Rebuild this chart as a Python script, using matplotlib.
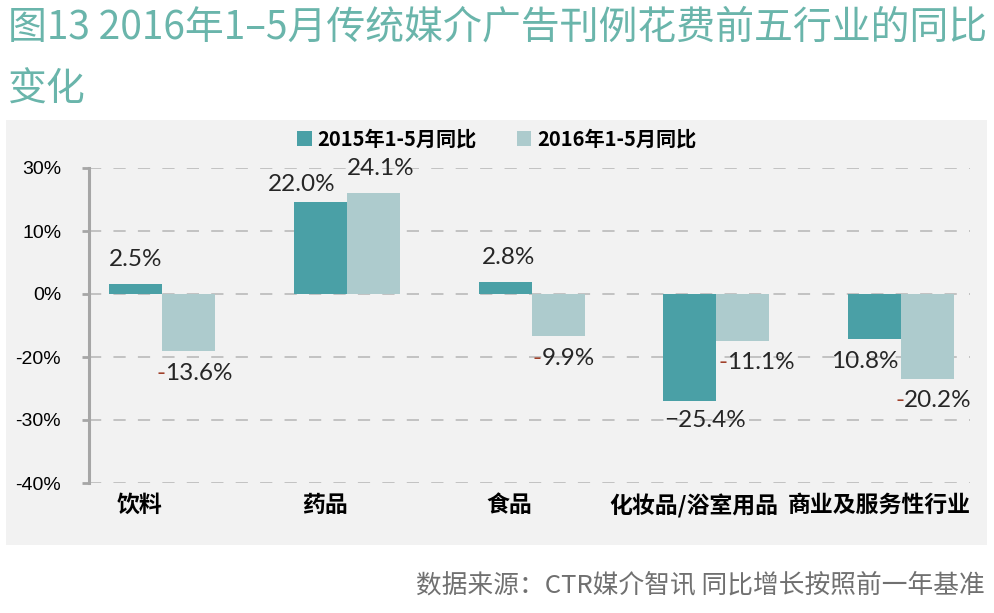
import numpy as np
import matplotlib
matplotlib.use("Agg")
import matplotlib.pyplot as plt
from matplotlib.patches import Rectangle
from matplotlib.transforms import ScaledTranslation
from matplotlib.offsetbox import TextArea, HPacker, AnnotationBbox

plt.rcParams['font.family'] = ['Noto Sans CJK SC', 'DejaVu Sans']

# data
categories = ["饮料", "药品", "食品", "化妆品/浴室用品", "商业及服务性行业"]
series_names = ["2015年1-5月同比", "2016年1-5月同比"]
yoy_2015 = [2.5, 22.0, 2.8, -25.4, -10.8]
yoy_2016 = [-13.6, 24.1, -9.9, -11.1, -20.2]
labels_2015 = ["2.5%", "22.0%", "2.8%", "\u221225.4%", "10.8%"]
ytick_vals = [30, 15, 0, -15, -30, -45]
ytick_labels = ["30%", "10%", "0%", "-20%", "-30%", "-40%"]

# label offsets in pixels (dx, dy), like the original
off_2015 = [(0, 24), (-19, 17), (4, 25), (15, -20), (-10, -22)]
off_2016 = [(6, -22), (7, 24), (6, -23), (14, -22), (6, -22)]

TEAL = "#4aa0a6"
LIGHT = "#adcbcd"
BG = "#f2f2f2"
TITLE_C = "#6ab5ab"
PX = 0.72  # pixel -> point at 100 dpi

fig = plt.figure(figsize=(9.95, 6.13), dpi=100)
fig.patch.set_facecolor("white")

# grey panel behind the chart
fig.patches.append(Rectangle((6 / 995, 1 - 545 / 613), 981 / 995, 425 / 613,
                             transform=fig.transFigure, facecolor=BG,
                             edgecolor="none", zorder=-5))

# title
fig.text(8 / 995, 1 - 28 / 613, "图13 2016年1–5月传统媒介广告刊例花费前五行业的同比",
         fontsize=28, color=TITLE_C, va="center", ha="left", fontweight="light")
fig.text(8 / 995, 1 - 90 / 613, "变化", fontsize=28, color=TITLE_C,
         va="center", ha="left", fontweight="light")

# source
fig.text(985 / 995, 1 - 585 / 613, "数据来源：CTR媒介智讯 同比增长按照前一年基准",
         fontsize=18.5, color="#707070", va="center", ha="right", fontweight="light")

ax = fig.add_axes([89 / 995, 1 - 483 / 613, (970 - 89) / 995, (483 - 168) / 613])
ax.set_facecolor("none")

x = np.arange(len(categories))
w = 0.287
b1 = ax.bar(x - w / 2, yoy_2015, w, color=TEAL, label=series_names[0], zorder=3)
b2 = ax.bar(x + w / 2, yoy_2016, w, color=LIGHT, label=series_names[1], zorder=3)

ax.set_xlim(-0.395, 4.373)
ax.set_ylim(-45, 30)

ax.set_yticks(ytick_vals)
ax.set_yticklabels(ytick_labels, fontsize=14, family=["Liberation Sans", "DejaVu Sans"])
for v in ytick_vals:
    ax.axhline(v, color="#b5b5b5", lw=1.1, linestyle=(0, (8, 8)), zorder=1)

for s in ["top", "right", "bottom"]:
    ax.spines[s].set_visible(False)
ax.spines["left"].set_color("#a6a6a6")
ax.spines["left"].set_linewidth(2.2)
ax.tick_params(axis="y", length=5, width=2, color="#a6a6a6", pad=15)

ax.set_xticks(x)
ax.set_xticklabels(categories, fontsize=16.5, fontweight="bold")
ax.tick_params(axis="x", length=0, pad=8)
shift = ScaledTranslation(-22 / 100, 0, fig.dpi_scale_trans)
for lab in ax.get_xticklabels():
    lab.set_transform(lab.get_transform() + shift)

# data labels
lab_font = dict(fontsize=17.5, family=["Lato", "DejaVu Sans"], color="#262626")
for i, v in enumerate(yoy_2015):
    dx, dy = off_2015[i]
    ax.annotate(labels_2015[i], (x[i] - w / 2, v), xytext=(dx * PX, dy * PX),
                textcoords="offset points", ha="center", va="center", **lab_font)

for i, v in enumerate(yoy_2016):
    dx, dy = off_2016[i]
    if v >= 0:
        ax.annotate(f"{v:.1f}%", (x[i] + w / 2, v), xytext=(dx * PX, dy * PX),
                    textcoords="offset points", ha="center", va="center", **lab_font)
    else:
        minus = TextArea("-", textprops=dict(fontsize=17.5, family=["Lato", "DejaVu Sans"],
                                             color="#a0402a"))
        num = TextArea(f"{abs(v):.1f}%", textprops=lab_font)
        box = HPacker(children=[minus, num], pad=0, sep=0, align="baseline")
        ab = AnnotationBbox(box, (x[i] + w / 2, v), xybox=(dx * PX, dy * PX),
                            xycoords="data", boxcoords="offset points",
                            frameon=False, box_alignment=(0.5, 0.5), pad=0)
        ax.add_artist(ab)

# legend
fig.legend(handles=[b1, b2], labels=series_names, loc="center",
           bbox_to_anchor=(497 / 995, 1 - 139 / 613), ncol=2, frameon=False,
           prop=dict(size=14.5, weight="bold"), handlelength=0.7, handleheight=0.7,
           handletextpad=0.3, columnspacing=2.0)

fig.savefig("out.png", dpi=100)
